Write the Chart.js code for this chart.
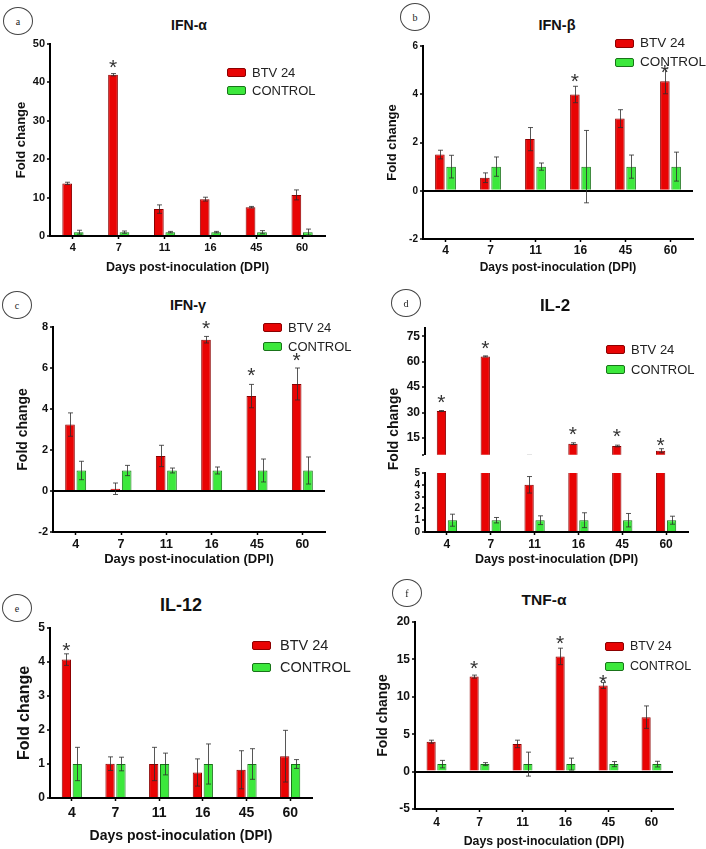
<!DOCTYPE html>
<html>
<head>
<meta charset="utf-8">
<script src="https://cdn.jsdelivr.net/npm/chart.js@4.4.1/dist/chart.umd.min.js"></script>
<style>
  html, body { margin: 0; padding: 0; background: #fff; overflow: hidden; }
  #fig { position: relative; width: 706px; height: 849px; overflow: hidden;
         font-family: "Liberation Sans", Arial, Helvetica, sans-serif; color: #111; }
  #fig canvas { position: absolute; }
  .txt { position: absolute; white-space: nowrap; line-height: 1; transform: translate(-50%, -50%); }
  .bold { font-weight: bold; }
  .circ { position: absolute; border: 1px solid #444; border-radius: 50%; box-sizing: border-box;
          display: flex; align-items: center; justify-content: center;
          font-family: "Liberation Serif", "DejaVu Serif", serif; font-size: 10px; color: #222; }
  .box { position: absolute; box-sizing: border-box; border-radius: 2px; }
  .leg { position: absolute; white-space: nowrap; line-height: 1; transform: translateY(-50%); color: #222; }
</style>
</head>
<body>
<div id="fig"></div>
<script>
// Six cytokine panels: fold change (mean ± SD) of BTV 24 vs CONTROL per day.

const DAYS = ["4", "7", "11", "16", "45", "60"];

// a) IFN-α
const IFNA_BTV = [13.7, 42.0, 7.0, 9.6, 7.5, 10.7];
const IFNA_BTV_SD = [0.3, 0.3, 1.1, 0.5, 0.2, 1.3];
const IFNA_CTL = [1, 1, 1, 1, 1, 1];
const IFNA_CTL_SD = [0.5, 0.3, 0.2, 0.2, 0.4, 0.8];
const IFNA_STAR = [null, 45.3, null, null, null, null];
const IFNA_TICKS = [0, 10, 20, 30, 40, 50];

// b) IFN-β
const IFNB_BTV = [1.5, 0.54, 2.14, 3.99, 2.99, 4.54];
const IFNB_BTV_SD = [0.18, 0.2, 0.48, 0.34, 0.37, 0.52];
const IFNB_CTL = [1, 1, 1, 1, 1, 1];
const IFNB_CTL_SD = [0.47, 0.4, 0.15, 1.5, 0.48, 0.6];
const IFNB_STAR = [null, null, null, 4.77, null, 5.15];
const IFNB_TICKS = [-2, 0, 2, 4, 6];

// c) IFN-γ
const IFNG_BTV = [3.24, 0.11, 1.71, 7.38, 4.63, 5.22];
const IFNG_BTV_SD = [0.57, 0.28, 0.52, 0.16, 0.57, 0.78];
const IFNG_CTL = [1, 1, 1, 1, 1, 1];
const IFNG_CTL_SD = [0.45, 0.25, 0.12, 0.17, 0.56, 0.66];
const IFNG_STAR = [null, null, null, 8.2, 5.9, 6.63];
const IFNG_TICKS = [-2, 0, 2, 4, 6, 8];

// d) IL-2 (broken axis: 0-5 below, 15-75 above)
const IL2_BTV = [30.9, 63.2, 4.0, 11.6, 10.2, 7.4];
const IL2_BTV_SD = [0.3, 0.3, 0.7, 0.5, 0.5, 1.2];
const IL2_CTL = [1, 1, 1, 1, 1, 1];
const IL2_CTL_SD = [0.51, 0.23, 0.37, 0.63, 0.57, 0.34];
const IL2_STAR = [39.3, 71.1, null, 20.6, 19.1, 14.0];
const IL2_TICKS_HI = [5, 15, 30, 45, 60, 75];
const IL2_TICKS_LO = [0, 1, 2, 3, 4, 5];

// e) IL-12
const IL12_BTV = [4.07, 1.01, 1.0, 0.75, 0.83, 1.23];
const IL12_BTV_SD = [0.17, 0.2, 0.49, 0.4, 0.56, 0.76];
const IL12_CTL = [1, 1, 1, 1, 1, 1];
const IL12_CTL_SD = [0.49, 0.2, 0.32, 0.59, 0.45, 0.13];
const IL12_STAR = [4.5, null, null, null, null, null];
const IL12_TICKS = [0, 1, 2, 3, 4, 5];

// f) TNF-α
const TNFA_BTV = [4.0, 12.7, 3.7, 15.4, 11.5, 7.28];
const TNFA_BTV_SD = [0.2, 0.2, 0.5, 1.1, 0.4, 1.5];
const TNFA_CTL = [1, 1, 1, 1, 1, 1];
const TNFA_CTL_SD = [0.5, 0.2, 1.6, 0.8, 0.34, 0.38];
const TNFA_STAR = [null, 14.5, null, 17.9, 12.7, null];
const TNFA_TICKS = [-5, 0, 5, 10, 15, 20];

const RED = "rgb(232, 4, 4)", RED_EDGE = "rgb(140, 0, 0)";
const GREEN = "rgb(60, 232, 60)", GREEN_EDGE = "rgb(25, 115, 25)";
const FONT = '"Liberation Sans", Arial, Helvetica, sans-serif';

Chart.defaults.font.family = FONT;
Chart.defaults.color = "#111";

const fig = document.getElementById("fig");

// SD whiskers, both directions, clipped to the plot area.
const errorBars = {
  id: "errorBars",
  afterDatasetsDraw(chart) {
    const { ctx, chartArea: a, scales: { y } } = chart;
    ctx.save();
    ctx.beginPath();
    ctx.rect(a.left - 6, a.top, a.width + 12, a.height);
    ctx.clip();
    ctx.strokeStyle = "rgba(45, 45, 45, 0.8)";
    ctx.lineWidth = 1;
    chart.data.datasets.forEach((ds, i) => {
      chart.getDatasetMeta(i).data.forEach((bar, j) => {
        const v = ds.data[j], e = ds.errors[j];
        if (v == null || !e) return;
        const x = Math.round(bar.x) + 0.5;
        const hi = y.getPixelForValue(v + e), lo = y.getPixelForValue(v - e);
        ctx.beginPath();
        ctx.moveTo(x, hi); ctx.lineTo(x, lo);
        ctx.moveTo(x - 2.5, hi); ctx.lineTo(x + 2.5, hi);
        ctx.moveTo(x - 2.5, lo); ctx.lineTo(x + 2.5, lo);
        ctx.stroke();
      });
    });
    ctx.restore();
  },
};

// Significance asterisks over the BTV bars, at a level in axis units.
const starMarks = {
  id: "stars",
  afterDatasetsDraw(chart, args, opts) {
    const levels = opts.levels;
    if (!levels) return;
    const { ctx, scales: { y } } = chart;
    const bars = chart.getDatasetMeta(0).data;
    const size = 21;
    ctx.save();
    ctx.font = `${size}px ${FONT}`;
    ctx.fillStyle = "#333";
    ctx.textAlign = "center";
    ctx.textBaseline = "alphabetic";
    levels.forEach((lv, j) => {
      if (lv == null) return;
      ctx.fillText("*", bars[j].x, y.getPixelForValue(lv) + size * 0.58);
    });
    ctx.restore();
  },
};

function makeChart(s) {
  const padTop = 16, padRight = 4, padBottom = 2;
  const yLh = s.yTitleSize * 1.2;
  const canvasL = Math.round(s.yTitleX - yLh / 2 - 1);
  const yW = s.plot.l - canvasL;
  let xH = 0, xPad = 0;
  if (s.showX) {
    xPad = s.xTickY - s.plot.b - 3 - (s.xTickSize * 1.2) / 2;
    xH = Math.round(s.xTitleY + (s.xTitleSize * 1.2) / 2 + 1 - s.plot.b);
  }
  const W = yW + (s.plot.r - s.plot.l) + padRight;
  const H = padTop + (s.plot.b - s.plot.t) + (s.showX ? xH : padBottom);

  const cv = document.createElement("canvas");
  cv.width = W; cv.height = H;
  Object.assign(cv.style, {
    left: canvasL + "px", top: (s.plot.t - padTop) + "px", width: W + "px", height: H + "px",
  });
  fig.appendChild(cv);

  const isZero = (c) => c.tick && c.tick.value === 0;

  new Chart(cv, {
    type: "bar",
    data: {
      labels: DAYS,
      datasets: [
        { label: "BTV 24", data: s.btv, errors: s.btvSd, backgroundColor: RED, borderColor: RED_EDGE,
          borderWidth: 1, categoryPercentage: 0.5, barPercentage: 0.85, clip: s.clip },
        { label: "CONTROL", data: s.ctl, errors: s.ctlSd, backgroundColor: GREEN, borderColor: GREEN_EDGE,
          borderWidth: 1, categoryPercentage: 0.5, barPercentage: 0.85, clip: s.clip },
      ],
    },
    options: {
      responsive: false,
      animation: false,
      devicePixelRatio: 1,
      layout: { padding: { top: padTop, right: padRight, left: 0, bottom: s.showX ? 0 : padBottom } },
      plugins: { legend: { display: false }, tooltip: { enabled: false }, stars: { levels: s.stars } },
      scales: {
        x: {
          display: s.showX,
          grid: { offset: false, drawOnChartArea: false, tickLength: 3, tickColor: "#000", tickWidth: 1.5 },
          border: { color: "#000", width: 2 },
          ticks: { font: { size: s.xTickSize, weight: "bold" }, padding: xPad, maxRotation: 0, autoSkip: false },
          title: { display: true, text: "Days post-inoculation (DPI)",
                   font: { size: s.xTitleSize, weight: "bold" }, padding: { top: 0, bottom: 1 } },
          afterFit(sc) { sc.height = xH; },
        },
        y: {
          min: s.min, max: s.max,
          afterBuildTicks(sc) { sc.ticks = s.ticks.map((v) => ({ value: v })); },
          ticks: { font: { size: s.yTickSize, weight: "bold" }, padding: 2, autoSkip: false,
                   callback: (v) => (s.blankTick === v ? "" : v) },
          grid: {
            drawOnChartArea: true,
            color: (c) => (isZero(c) ? "#000" : "rgba(0,0,0,0)"),
            lineWidth: (c) => (isZero(c) ? 2 : 0),
            tickColor: "#000", tickWidth: 1.5, tickLength: 3,
          },
          border: { color: "#000", width: 2 },
          title: { display: s.showYTitle !== false, text: "Fold change",
                   font: { size: s.yTitleSize, weight: "bold" }, padding: { top: 1, bottom: 0 } },
          afterFit(sc) { sc.width = yW; },
        },
      },
    },
    plugins: [errorBars, starMarks],
  });
}

function addText(text, x, y, size, cls, extra) {
  const d = document.createElement("div");
  d.className = "txt " + (cls || "");
  d.textContent = text;
  Object.assign(d.style, { left: x + "px", top: y + "px", fontSize: size + "px" }, extra || {});
  fig.appendChild(d);
}

function addCircle(letter, x, y) {
  const d = document.createElement("div");
  d.className = "circ";
  d.textContent = letter;
  Object.assign(d.style, { left: (x - 15) + "px", top: (y - 14) + "px", width: "30px", height: "28px" });
  fig.appendChild(d);
}

function addLegend(lg) {
  [["BTV 24", RED, RED_EDGE, lg.y1], ["CONTROL", GREEN, GREEN_EDGE, lg.y2]].forEach(([name, fill, edge, y]) => {
    const b = document.createElement("div");
    b.className = "box";
    Object.assign(b.style, { left: lg.bx + "px", top: (y - 4.5) + "px", width: "19px", height: "9px",
                             background: fill, border: `1px solid ${edge}` });
    fig.appendChild(b);
    const t = document.createElement("div");
    t.className = "leg";
    t.textContent = name;
    Object.assign(t.style, { left: lg.tx + "px", top: y + "px", fontSize: lg.size + "px" });
    fig.appendChild(t);
  });
}

function panel(p) {
  addCircle(p.letter, p.circle[0], p.circle[1]);
  addText(p.title, p.titlePos[0], p.titlePos[1], p.titleSize, "bold");
  p.parts.forEach(makeChart);
  if (p.yTitleHtml) {
    addText("Fold change", p.yTitleHtml[0], p.yTitleHtml[1], p.yTitleHtml[2], "bold",
            { transform: "translate(-50%, -50%) rotate(-90deg)" });
  }
  addLegend(p.legend);
}

const common = (btv, btvSd, ctl, ctlSd) => ({ btv, btvSd, ctl, ctlSd });

panel({
  letter: "a", circle: [18, 21], title: "IFN-α", titlePos: [189, 25], titleSize: 14,
  legend: { bx: 227, tx: 252, y1: 72, y2: 90, size: 13 },
  parts: [{
    ...common(IFNA_BTV, IFNA_BTV_SD, IFNA_CTL, IFNA_CTL_SD), stars: IFNA_STAR,
    plot: { l: 50, r: 325, t: 44, b: 236 }, min: 0, max: 50, ticks: IFNA_TICKS, yTickSize: 11,
    showX: true, xTickSize: 11, xTickY: 248, xTitleY: 267, xTitleSize: 12.5, yTitleX: 22, yTitleSize: 13,
  }],
});

panel({
  letter: "b", circle: [415, 17], title: "IFN-β", titlePos: [557, 25], titleSize: 14.5,
  legend: { bx: 615, tx: 640, y1: 43, y2: 62, size: 13.5 },
  parts: [{
    ...common(IFNB_BTV, IFNB_BTV_SD, IFNB_CTL, IFNB_CTL_SD), stars: IFNB_STAR,
    plot: { l: 423, r: 693, t: 46, b: 239 }, min: -2, max: 6, ticks: IFNB_TICKS, yTickSize: 10,
    showX: true, xTickSize: 12, xTickY: 251, xTitleY: 268, xTitleSize: 12, yTitleX: 393, yTitleSize: 13,
  }],
});

panel({
  letter: "c", circle: [17, 305], title: "IFN-γ", titlePos: [188, 305], titleSize: 14.5,
  legend: { bx: 263, tx: 288, y1: 327, y2: 346, size: 13 },
  parts: [{
    ...common(IFNG_BTV, IFNG_BTV_SD, IFNG_CTL, IFNG_CTL_SD), stars: IFNG_STAR,
    plot: { l: 53, r: 325, t: 327, b: 532 }, min: -2, max: 8, ticks: IFNG_TICKS, yTickSize: 11,
    showX: true, xTickSize: 12.5, xTickY: 545, xTitleY: 559, xTitleSize: 13, yTitleX: 23, yTitleSize: 14,
  }],
});

panel({
  letter: "d", circle: [406, 303], title: "IL-2", titlePos: [555, 305], titleSize: 17,
  legend: { bx: 606, tx: 631, y1: 349, y2: 369, size: 13 },
  yTitleHtml: [393, 429, 14],
  parts: [{
    ...common(IL2_BTV, IL2_BTV_SD, IL2_CTL, IL2_CTL_SD), stars: IL2_STAR, clip: 0,
    plot: { l: 425, r: 688, t: 328, b: 462 }, min: 5, max: 80, ticks: IL2_TICKS_HI, blankTick: 5, yTickSize: 12,
    showX: false, yTitleX: 393, yTitleSize: 14, showYTitle: false,
  }, {
    ...common(IL2_BTV, IL2_BTV_SD, IL2_CTL, IL2_CTL_SD), clip: 0,
    plot: { l: 425, r: 688, t: 473, b: 532 }, min: 0, max: 5, ticks: IL2_TICKS_LO, yTickSize: 10,
    showX: true, xTickSize: 12, xTickY: 545, xTitleY: 559, xTitleSize: 12.5, yTitleX: 393, yTitleSize: 14,
    showYTitle: false,
  }],
});

panel({
  letter: "e", circle: [17, 608], title: "IL-12", titlePos: [181, 605], titleSize: 18,
  legend: { bx: 252, tx: 280, y1: 645, y2: 667, size: 14.5 },
  parts: [{
    ...common(IL12_BTV, IL12_BTV_SD, IL12_CTL, IL12_CTL_SD), stars: IL12_STAR,
    plot: { l: 50, r: 312, t: 628, b: 798 }, min: 0, max: 5, ticks: IL12_TICKS, yTickSize: 12,
    showX: true, xTickSize: 14, xTickY: 813, xTitleY: 837, xTitleSize: 14, yTitleX: 25, yTitleSize: 16,
  }],
});

panel({
  letter: "f", circle: [407, 593], title: "TNF-α", titlePos: [544, 600], titleSize: 15.5,
  legend: { bx: 605, tx: 630, y1: 646, y2: 666, size: 12.5 },
  parts: [{
    ...common(TNFA_BTV, TNFA_BTV_SD, TNFA_CTL, TNFA_CTL_SD), stars: TNFA_STAR,
    plot: { l: 415, r: 673, t: 622, b: 809 }, min: -5, max: 20, ticks: TNFA_TICKS, yTickSize: 12,
    showX: true, xTickSize: 12, xTickY: 823, xTitleY: 842, xTitleSize: 12.3, yTitleX: 383, yTitleSize: 14,
  }],
});
</script>
</body>
</html>
